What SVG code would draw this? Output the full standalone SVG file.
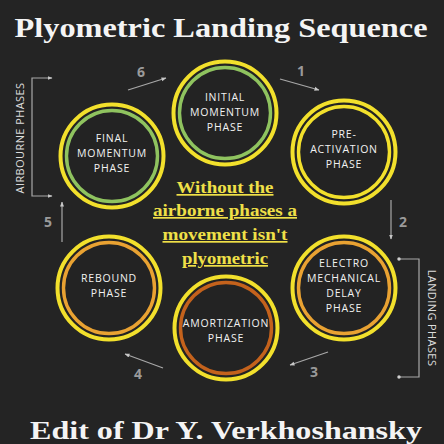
<svg xmlns="http://www.w3.org/2000/svg" width="444" height="444" viewBox="0 0 444 444">
<defs>
<style>
.bg{fill:#242424}
.outer{fill:#232323;stroke:#f2e02c;stroke-width:4}
.inner{fill:none;stroke-width:3.4}
.lbl{font-family:"Open Sans","DejaVu Sans",sans-serif;font-size:10.5px;fill:#f2f2f2;text-anchor:middle;letter-spacing:0.8px}
.num{font-family:"Open Sans","DejaVu Sans",sans-serif;font-weight:bold;font-size:14px;fill:#9a9a9a;text-anchor:middle}
.conn{stroke:#a8a8a8;stroke-width:1.2;fill:none}
.title{font-family:"Liberation Serif","DejaVu Serif",serif;font-weight:bold;fill:#f4f4f4;text-anchor:middle}
.mid{font-family:"Liberation Serif","DejaVu Serif",serif;font-weight:bold;font-size:17px;fill:#f0e048;text-anchor:middle;text-decoration:underline}
.side{font-family:"Open Sans","DejaVu Sans",sans-serif;font-size:11px;fill:#dcdcdc;text-anchor:middle;letter-spacing:0.4px}
</style>
<marker id="ah" viewBox="0 0 10 10" refX="9" refY="5" markerWidth="5" markerHeight="5" orient="auto-start-reverse" markerUnits="userSpaceOnUse">
<path d="M0,1 L10,5 L0,9 z" fill="#c8c8c8"/>
</marker>
<marker id="dot" viewBox="0 0 10 10" refX="5" refY="5" markerWidth="3.5" markerHeight="3.5" markerUnits="userSpaceOnUse">
<circle cx="5" cy="5" r="5" fill="#d0d0d0"/>
</marker>
</defs>
<rect class="bg" x="0" y="0" width="444" height="444"/>
<text class="title" x="221" y="37" font-size="27" textLength="413" lengthAdjust="spacingAndGlyphs">Plyometric Landing Sequence</text>
<text class="title" x="226" y="439" font-size="26" textLength="392" lengthAdjust="spacingAndGlyphs">Edit of Dr Y. Verkhoshansky</text>

<g id="connectors">
<line class="conn" x1="280" y1="79" x2="319" y2="90" marker-end="url(#ah)"/>
<line class="conn" x1="391" y1="200" x2="391" y2="239" marker-end="url(#ah)"/>
<line class="conn" x1="328" y1="352" x2="290" y2="365" marker-end="url(#ah)"/>
<line class="conn" x1="163" y1="368" x2="125" y2="354" marker-end="url(#ah)"/>
<line class="conn" x1="62" y1="242" x2="62" y2="202" marker-end="url(#ah)"/>
<line class="conn" x1="128" y1="90" x2="166" y2="78" marker-end="url(#ah)"/>
</g>

<g id="labels-num">
<text class="num" x="301" y="76">1</text>
<text class="num" x="403" y="227">2</text>
<text class="num" x="314" y="377">3</text>
<text class="num" x="138" y="379">4</text>
<text class="num" x="48" y="227">5</text>
<text class="num" x="141" y="77">6</text>
</g>

<g id="airborne-bracket">
<path class="conn" d="M52,78 H32 V196 H52" marker-start="url(#ah)" marker-end="url(#ah)"/>
<text class="side" transform="translate(24,138) rotate(-90)">AIRBOURNE PHASES</text>
</g>
<g id="landing-bracket">
<path class="conn" d="M399,259 H419 V377 H399" marker-start="url(#dot)" marker-end="url(#dot)"/>
<text class="side" transform="translate(428,318) rotate(90)">LANDING PHASES</text>
</g>

<g id="initial">
<circle class="outer" cx="225" cy="113" r="51.5"/>
<circle class="inner" cx="225" cy="113" r="45.5" stroke="#8fc35f"/>
<text class="lbl" x="225" y="101">INITIAL</text>
<text class="lbl" x="225" y="116">MOMENTUM</text>
<text class="lbl" x="225" y="131">PHASE</text>
</g>
<g id="pre-activation">
<circle class="outer" cx="344" cy="152" r="51.5"/>
<circle class="inner" cx="344" cy="152" r="45.5" stroke="#f2e02c"/>
<text class="lbl" x="344" y="138">PRE-</text>
<text class="lbl" x="344" y="153">ACTIVATION</text>
<text class="lbl" x="344" y="168">PHASE</text>
</g>
<g id="electro">
<circle class="outer" cx="344" cy="288" r="51.5"/>
<circle class="inner" cx="344" cy="288" r="45.5" stroke="#e9a232"/>
<text class="lbl" x="344" y="267">ELECTRO</text>
<text class="lbl" x="344" y="282">MECHANICAL</text>
<text class="lbl" x="344" y="297">DELAY</text>
<text class="lbl" x="344" y="312">PHASE</text>
</g>
<g id="amortization">
<circle class="outer" cx="226" cy="328" r="51.5"/>
<circle class="inner" cx="226" cy="328" r="45.5" stroke="#c4621c"/>
<text class="lbl" x="226" y="327">AMORTIZATION</text>
<text class="lbl" x="226" y="342">PHASE</text>
</g>
<g id="rebound">
<circle class="outer" cx="109" cy="288" r="51.5"/>
<circle class="inner" cx="109" cy="288" r="45.5" stroke="#e9a232"/>
<text class="lbl" x="109" y="282">REBOUND</text>
<text class="lbl" x="109" y="297">PHASE</text>
</g>
<g id="final">
<circle class="outer" cx="112" cy="156" r="51.5"/>
<circle class="inner" cx="112" cy="156" r="45.5" stroke="#8fc35f"/>
<text class="lbl" x="112" y="142">FINAL</text>
<text class="lbl" x="112" y="157">MOMENTUM</text>
<text class="lbl" x="112" y="172">PHASE</text>
</g>

<g id="center-note">
<text class="mid" x="225" y="193" textLength="97" lengthAdjust="spacingAndGlyphs">Without the</text>
<text class="mid" x="225" y="216" textLength="144" lengthAdjust="spacingAndGlyphs">airborne phases a</text>
<text class="mid" x="225" y="240" textLength="125" lengthAdjust="spacingAndGlyphs">movement isn't</text>
<text class="mid" x="225" y="264" textLength="86" lengthAdjust="spacingAndGlyphs">plyometric</text>
</g>
</svg>
